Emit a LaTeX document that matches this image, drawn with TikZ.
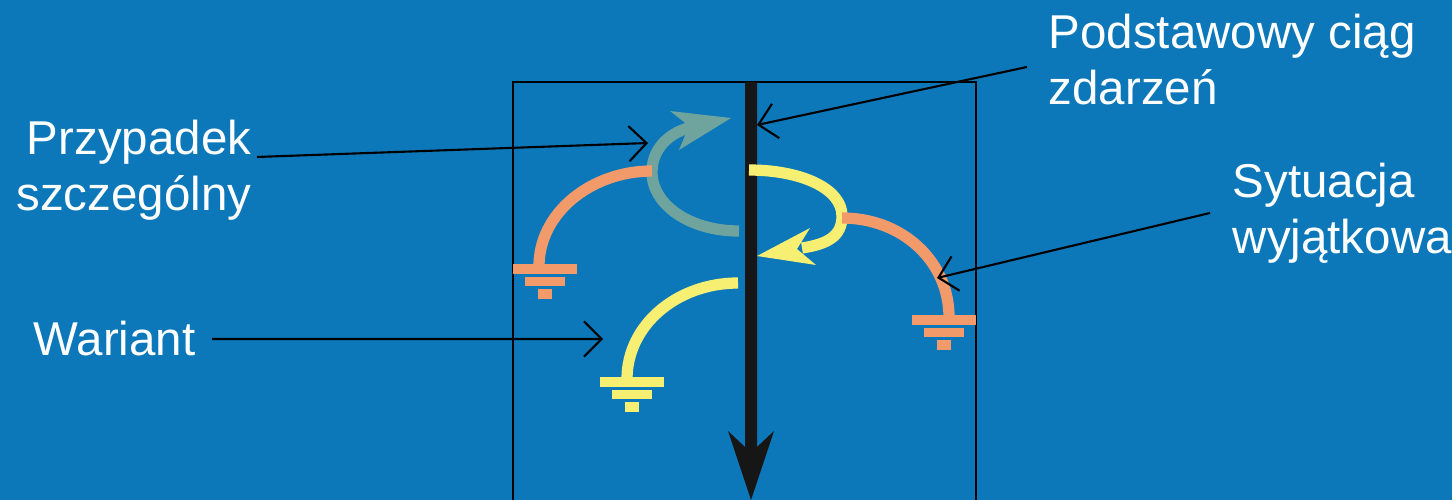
\documentclass[tikz,border=0pt]{standalone}
\usepackage{fontspec}
\setmainfont{Liberation Sans}
\usetikzlibrary{arrows.meta}

\tikzset{
    lbl/.style={font=\fontsize{13.5pt}{15.9pt}\selectfont, text=white, inner sep=0pt},
    pointer/.style={draw=black, line width=0.6pt, -{Straight Barb[length=5pt,width=10pt]}},
    flow/.style={line width=3.2pt},
    ground/.pic={
        \fill (-32,0) rectangle (32,10);
        \fill (-20,13) rectangle (20,22);
        \fill (-7,25) rectangle (7,35);
    }
}

\begin{document}
\begin{tikzpicture}[x=0.01cm, y=-0.01cm]
    \definecolor{bgColour}{HTML}{0C78BA}
    \definecolor{mainColour}{HTML}{161616}
    \definecolor{orangeColour}{HTML}{F39A6B}
    \definecolor{yellowColour}{HTML}{F6EF72}
    \definecolor{tealColour}{HTML}{6FA39E}

    \def\frameTop{82}

    % Background
    \useasboundingbox (0,0) rectangle (1452,500);
    \fill[bgColour] (0,0) rectangle (1452,500);

    % Frame
    \draw[black, line width=0.4pt] (513,500) -- (513,\frameTop) -- (976,\frameTop) -- (976,500);

    % Main flow arrow
    \fill[mainColour] (745,\frameTop) -- (757,\frameTop) -- (757,447) -- (774,431)
        -- (751,500) -- (728,431) -- (745,447) -- cycle;

    % Special case: teal loop back
    \draw[flow, tealColour] (739,231) .. controls (690,231) and (652,205) .. (652,172)
        .. controls (652,148) and (670,132) .. (692,127);
    \fill[tealColour] (731,118) -- (670,111) -- (689,126) -- (679,150) -- cycle;

    % Left exception branch
    \draw[flow, orangeColour] (652,171) .. controls (591,171) and (539,213) .. (539,266);
    \pic[orangeColour] at (545,264) {ground};

    % Exception: yellow loop back
    \draw[flow, yellowColour] (749,170) .. controls (800,170) and (842,188) .. (842,216)
        .. controls (842,236) and (828,244) .. (802,248);
    \fill[yellowColour] (757,256) -- (810,228) -- (797,249) -- (816,265) -- cycle;

    % Right exception branch
    \draw[flow, orangeColour] (842,218) .. controls (903,218) and (949,262) .. (949,317);
    \pic[orangeColour] at (944,315) {ground};

    % Variant branch
    \draw[flow, yellowColour] (738,283) .. controls (677,283) and (627,325) .. (627,379);
    \pic[yellowColour] at (632,377) {ground};

    % Labels
    \node[lbl, anchor=base west, align=left] (podst) at (1048,104) {Podstawowy ciąg\\zdarzeń};
    \node[lbl, anchor=base east, align=right] (przyp) at (252,210) {Przypadek\\szczególny};
    \node[lbl, anchor=base west, align=left] (sytu) at (1232,253) {Sytuacja\\wyjątkowa};
    \node[lbl, anchor=base west] (wariant) at (33,355) {Wariant};

    % Pointer tips
    \coordinate (mainTip) at (757,125);
    \coordinate (przypTip) at (648,143);
    \coordinate (sytuTip) at (937,278);
    \coordinate (wariantTip) at (603,339);

    % Pointers
    \draw[pointer] ([shift={(-0.21cm,0.37cm)}]podst.base west) -- (mainTip);
    \draw[pointer] ([shift={(0.05cm,0.53cm)}]przyp.base east) -- (przypTip);
    \draw[pointer] ([shift={(-0.22cm,0.40cm)}]sytu.base west) -- (sytuTip);
    \draw[pointer] ([shift={(0.16cm,0.16cm)}]wariant.base east) -- (wariantTip);

\end{tikzpicture}
\end{document}
